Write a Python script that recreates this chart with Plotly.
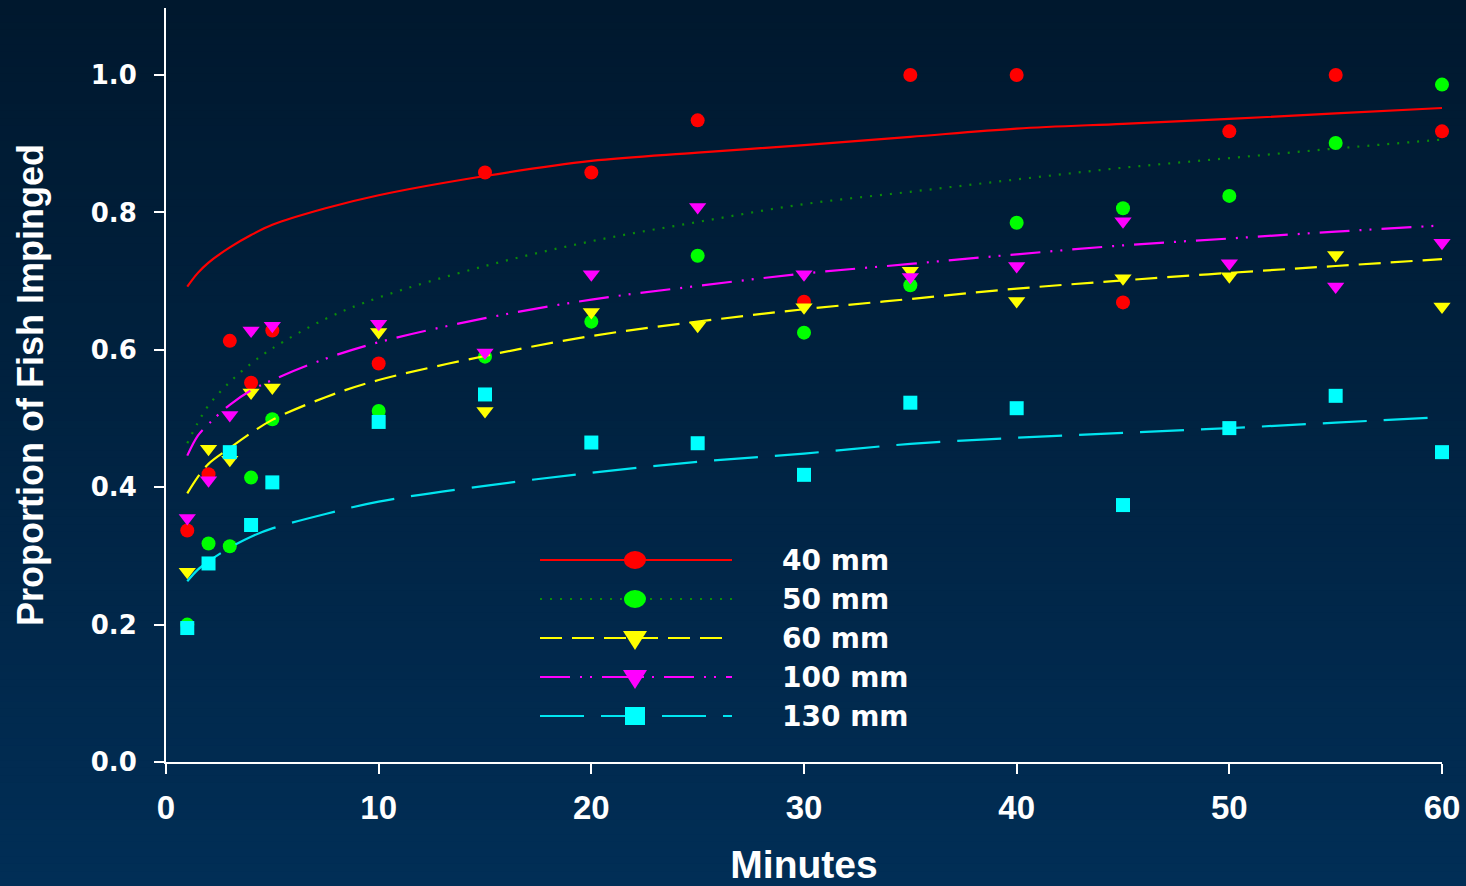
import plotly.graph_objects as go

# ---------------- data ----------------
minutes = [1, 2, 3, 4, 5, 10, 15, 20, 25, 30, 35, 40, 45, 50, 55, 60]

series_names = ["40 mm", "50 mm", "60 mm", "100 mm", "130 mm"]

obs_40 = [0.337, 0.419, 0.613, 0.552, 0.628, 0.580, 0.858, 0.858, 0.934, 0.670, 1.000, 1.000, 0.669, 0.918, 1.000, 0.918]
obs_50 = [0.200, 0.318, 0.314, 0.414, 0.499, 0.511, 0.590, 0.641, 0.737, 0.625, 0.694, 0.785, 0.806, 0.824, 0.901, 0.986]
obs_60 = [0.277, 0.456, 0.440, 0.538, 0.545, 0.626, 0.511, 0.655, 0.635, 0.662, 0.715, 0.671, 0.704, 0.707, 0.738, 0.663]
obs_100 = [0.355, 0.410, 0.505, 0.628, 0.635, 0.638, 0.596, 0.710, 0.808, 0.710, 0.706, 0.722, 0.787, 0.726, 0.692, 0.756]
obs_130 = [0.195, 0.289, 0.451, 0.345, 0.407, 0.495, 0.535, 0.465, 0.464, 0.418, 0.523, 0.515, 0.374, 0.486, 0.533, 0.451]

# fitted curves, values at these minutes
fit_minutes = [1, 1.5, 2, 3, 4, 5, 7.5, 10, 15, 20, 25, 30, 35, 40, 45, 50, 55, 60]
fit_40 = [0.692, 0.712, 0.727, 0.749, 0.767, 0.782, 0.806, 0.825, 0.853, 0.875, 0.887, 0.898, 0.910, 0.922, 0.929, 0.936, 0.944, 0.952]
fit_50 = [0.464, 0.494, 0.519, 0.553, 0.580, 0.602, 0.645, 0.676, 0.722, 0.758, 0.786, 0.812, 0.830, 0.848, 0.865, 0.879, 0.893, 0.906]
fit_60 = [0.391, 0.415, 0.434, 0.457, 0.479, 0.498, 0.531, 0.556, 0.591, 0.620, 0.641, 0.659, 0.674, 0.689, 0.701, 0.712, 0.722, 0.732]
fit_100 = [0.446, 0.475, 0.492, 0.520, 0.541, 0.556, 0.587, 0.611, 0.646, 0.673, 0.693, 0.711, 0.725, 0.739, 0.752, 0.762, 0.772, 0.781]
fit_130 = [0.263, 0.280, 0.292, 0.312, 0.328, 0.340, 0.361, 0.379, 0.402, 0.421, 0.437, 0.449, 0.463, 0.472, 0.479, 0.486, 0.494, 0.502]

y_ticks = [0.0, 0.2, 0.4, 0.6, 0.8, 1.0]
x_ticks = [0, 10, 20, 30, 40, 50, 60]

# ---------------- styles ----------------
observed = [obs_40, obs_50, obs_60, obs_100, obs_130]
fitted = [fit_40, fit_50, fit_60, fit_100, fit_130]
marker_colors = ["#FF0000", "#00FF00", "#FFFF00", "#FF00FF", "#00FFFF"]
line_colors = ["#FF0000", "#0A8A0A", "#FFFF00", "#FF00FF", "#00E5F0"]
symbols = ["circle", "circle", "triangle-down", "triangle-down", "square"]
marker_sizes = [14, 14, 15, 15, 14]
dashes = ["solid", "2px,8px", "22px,10px", "30px,10px,2px,8px,2px,10px", "44px,17px"]

W, H = 1466, 886
L, R, T, B = 166, 24, 8, 124
PW, PH = W - L - R, H - T - B


def px_x(px):
    return (px - L) / PW


def px_y(py):
    return (H - B - py) / PH


fig = go.Figure()

for name, obs, fit, mc, lc, sym, ms, dash in zip(series_names, observed, fitted, marker_colors,
                                                  line_colors, symbols, marker_sizes, dashes):
    fig.add_trace(go.Scatter(
        x=fit_minutes, y=fit, mode="lines", name=name + " fit", showlegend=False,
        line=dict(color=lc, width=2.2, dash=dash, shape="spline", smoothing=1.0),
        hoverinfo="skip", cliponaxis=False))
    fig.add_trace(go.Scatter(
        x=minutes, y=obs, mode="markers", name=name, showlegend=False,
        marker=dict(symbol=sym, size=ms, color=mc, line=dict(width=0)),
        cliponaxis=False))

# ---------------- background gradient ----------------
shapes = []
top_rgb = (0, 24, 46)
bot_rgb = (1, 46, 86)
n_bands = 120
for i in range(n_bands):
    t = i / (n_bands - 1)
    c = tuple(round(a + (b - a) * t) for a, b in zip(top_rgb, bot_rgb))
    y0 = i * H / n_bands
    y1 = (i + 1) * H / n_bands + 1
    shapes.append(dict(type="rect", xref="paper", yref="paper", layer="below",
                       x0=px_x(0), x1=px_x(W), y0=px_y(y1), y1=px_y(y0),
                       line=dict(width=0), fillcolor="rgb(%d,%d,%d)" % c))

# ---------------- custom legend ----------------
leg_x0, leg_x1, leg_mx, leg_tx = 540, 732, 635, 780
leg_rows = [560, 599, 638, 677, 716]
annotations = []
for name, mc, lc, sym, dash, ry in zip(series_names, marker_colors, line_colors, symbols, dashes, leg_rows):
    shapes.append(dict(type="line", xref="paper", yref="paper",
                       x0=px_x(leg_x0), x1=px_x(leg_x1), y0=px_y(ry), y1=px_y(ry),
                       line=dict(color=lc, width=2.2, dash=dash)))
    common = dict(xref="paper", yref="paper", xsizemode="pixel", ysizemode="pixel",
                  xanchor=px_x(leg_mx), yanchor=px_y(ry), fillcolor=mc, line=dict(width=0))
    if sym == "circle":
        shapes.append(dict(type="circle", x0=-11, x1=11, y0=-9, y1=9, **common))
    elif sym == "square":
        shapes.append(dict(type="rect", x0=-10, x1=10, y0=-9, y1=9, **common))
    else:
        shapes.append(dict(type="path", path="M -12 7 L 12 7 L 0 -12 Z", **common))
    annotations.append(dict(xref="paper", yref="paper", x=px_x(leg_tx), y=px_y(ry),
                            xanchor="left", yanchor="middle", showarrow=False, text=name,
                            font=dict(family="DejaVu Sans", size=28, color="white", weight="bold")))

fig.update_layout(
    width=W, height=H,
    margin=dict(l=L, r=R, t=T, b=B, autoexpand=False),
    paper_bgcolor="rgb(0,35,66)",
    plot_bgcolor="rgba(0,0,0,0)",
    showlegend=False,
    shapes=shapes,
    annotations=annotations,
    xaxis=dict(
        range=[0, 60], tickvals=x_ticks, ticktext=[str(v) for v in x_ticks],
        showgrid=False, zeroline=False, showline=True, linecolor="white", linewidth=2,
        ticks="outside", ticklen=10, tickwidth=2, tickcolor="white",
        tickfont=dict(family="Liberation Sans", size=33, color="white", weight="bold"),
        ticklabelstandoff=5,
        title=dict(text="Minutes", standoff=28,
                   font=dict(family="Liberation Sans", size=39, color="white", weight="bold")),
    ),
    yaxis=dict(
        range=[0, (H - B - T) / 687], tickvals=y_ticks, ticktext=["%.1f" % v for v in y_ticks],
        showgrid=False, zeroline=False, showline=True, linecolor="white", linewidth=2,
        ticks="outside", ticklen=10, tickwidth=2, tickcolor="white",
        tickfont=dict(family="DejaVu Sans", size=26, color="white", weight="bold"),
        ticklabelstandoff=12,
        title=dict(text="Proportion of Fish Impinged", standoff=36,
                   font=dict(family="Liberation Sans", size=36, color="white", weight="bold")),
    ),
)

fig.write_html("out.html", config={"displayModeBar": False},
               post_script="document.body.style.margin='0px';document.body.style.overflow='hidden';")
